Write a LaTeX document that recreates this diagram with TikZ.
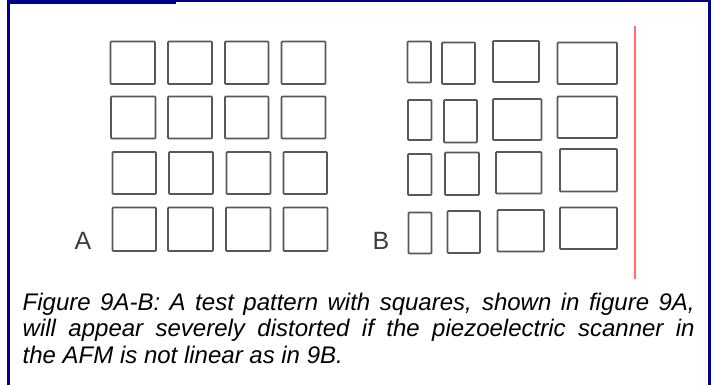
\documentclass[tikz,border=0pt]{standalone}
\usepackage{fontspec}
\setmainfont{Liberation Sans}
\definecolor{navyb}{RGB}{0,0,140}
\definecolor{redline}{RGB}{255,110,110}
\definecolor{sqgray}{RGB}{88,88,88}
\definecolor{lblgray}{RGB}{60,60,60}
\newcommand\mysq[4]{\draw[sqr] (#1,#2) rectangle (#3,#4);}
\begin{document}
\begin{tikzpicture}[x=1pt,y=-1pt,
  sqr/.style={draw=sqgray,line width=1.7pt,rounded corners=0.8pt},
  border/.style={navyb,line width=3pt},
  captext/.style={inner sep=0pt,anchor=base west,font=\fontsize{24pt}{26pt}\selectfont\itshape,text=black},
  lbl/.style={inner sep=0pt,anchor=base,font=\fontsize{25pt}{26pt}\selectfont,text=lblgray}]
\useasboundingbox (0,0) rectangle (714,385);
\fill[white] (0,0) rectangle (714,385);
% frame
\draw[border] (8,0) -- (8,385);
\draw[border] (709,0) -- (709,385);
\draw[navyb,line width=2.5pt] (6.5,1.25) -- (710.5,1.25);
\fill[navyb] (6.5,0) rectangle (176,4);
% red line
\draw[redline,line width=2pt] (635,26) -- (635,279);
% grid A
\mysq{110.5}{41.5}{155}{84}\mysq{168}{41.5}{212}{84}\mysq{225}{41.5}{268.5}{84}\mysq{281.5}{41.5}{325.5}{84}
\mysq{111}{96.5}{155.5}{138.5}\mysq{168}{96.5}{212}{138.5}\mysq{225}{96.5}{268.5}{138.5}\mysq{281.5}{96.5}{325.5}{138.5}
\mysq{112.5}{152}{156}{194}\mysq{169}{152}{213}{194}\mysq{226.5}{152}{270.5}{194}\mysq{283.5}{152}{327}{194}
\mysq{112.5}{207.5}{156}{251}\mysq{168}{207.5}{213}{251}\mysq{226}{207.5}{270.5}{251}\mysq{283.5}{207.5}{327.5}{251}
% grid B
\mysq{407.5}{41.5}{431}{82.5}\mysq{442}{42.5}{475}{84}\mysq{493}{41}{539}{82}\mysq{557.5}{42.5}{617}{84}
\mysq{408}{100}{431.5}{140}\mysq{444}{100}{477}{142.5}\mysq{493}{99}{541.5}{140}\mysq{557.5}{96.5}{617}{138}
\mysq{408}{154}{431.5}{195}\mysq{445}{152.5}{479}{195}\mysq{496}{152}{541.5}{193.5}\mysq{560}{149}{617}{191.5}
\mysq{408.5}{212.5}{431.5}{253.5}\mysq{447.5}{211}{480}{253}\mysq{497.5}{210}{544}{251.5}\mysq{560}{207.5}{617}{249}
% labels
\node[lbl] (la) at (83,249.5) {A};
\node[lbl] (lb) at (381,249.5) {B};
% caption
\node[captext] (c1) at (22.5,310) {\makebox[672pt][s]{Figure 9A-B: A test pattern with squares, shown in figure 9A,}};
\node[captext] (c2) at (22.5,336.7) {\makebox[672pt][s]{will appear severely distorted if the piezoelectric scanner in}};
\node[captext] (c3) at (22.5,363.3) {the AFM is not linear as in 9B.};
\end{tikzpicture}
\end{document}
